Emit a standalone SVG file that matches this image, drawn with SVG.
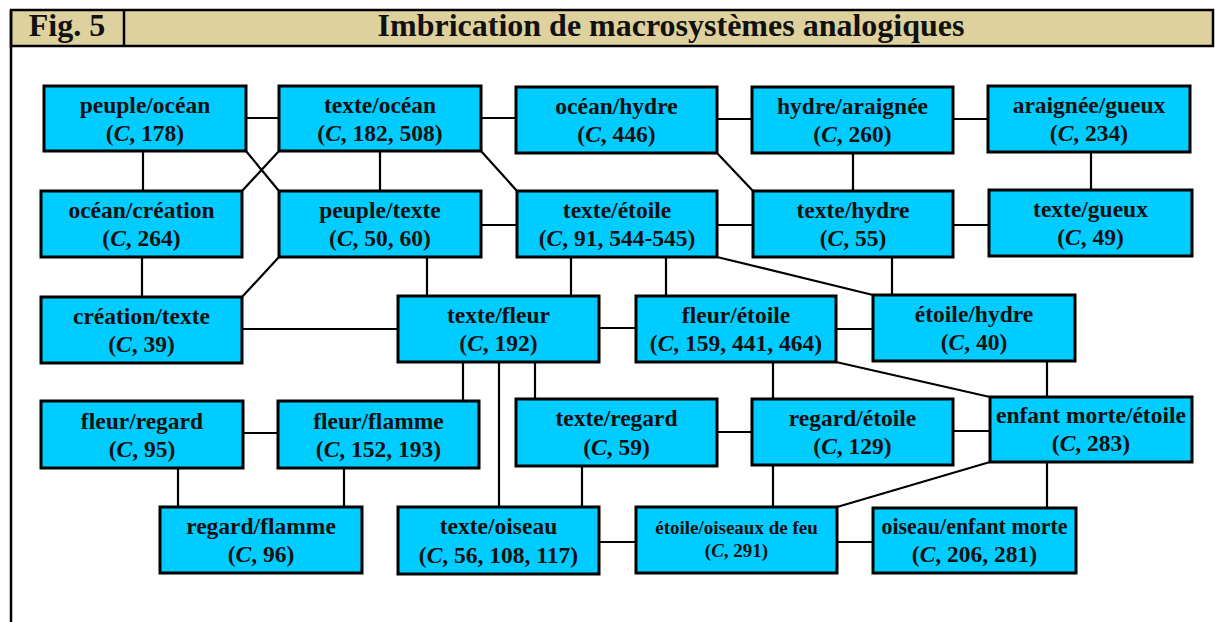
<svg xmlns="http://www.w3.org/2000/svg" width="1215" height="622" viewBox="0 0 1215 622">
  <style>
    .frame { fill: none; stroke: #000; stroke-width: 2.5; }
    .head { fill: #DED19D; stroke: #000; stroke-width: 2.5; }
    .htxt { font-family: "Liberation Serif", "DejaVu Serif", serif; font-weight: bold; font-size: 32px; fill: #111; text-anchor: middle; }
    .node rect { fill: #00CCFF; stroke: #000; stroke-width: 3; }
    .node text { font-family: "Liberation Serif", "DejaVu Serif", serif; font-weight: bold; font-size: 23.5px; fill: #111; text-anchor: middle; }
    .node text.sm { font-size: 19px; }
    .it { font-style: italic; }
    .links { fill: none; stroke: #000; stroke-width: 2.2; }
  </style>

  <!-- header band and left frame line -->
  <rect class="head" x="11" y="10" width="1202" height="36"/>
  <line class="frame" x1="124" y1="10" x2="124" y2="46"/>
  <line class="frame" x1="11" y1="10" x2="11" y2="622"/>
  <text class="htxt" x="67" y="36">Fig. 5</text>
  <text class="htxt" x="671" y="36">Imbrication de macrosystèmes analogiques</text>

  <!-- connectors -->
  <g id="connectors" class="links">
    <path d="M246 118 H279 M481 118 H516 M717 119 H752 M953 119 H988"/>
    <path d="M143 151 V191 M380 151 V191 M853 153 V191 M1091 152 V190"/>
    <path d="M246 151 L279 191 M279 151 L242 191 M481 151 L517 191 M717 153 L753 191"/>
    <path d="M481 225 H517 M717 225 H753 M953 225 H989"/>
    <path d="M142 257 V297 M279 257 L242 297 M242 329 H398"/>
    <path d="M427 257 V296 M571 257 V296 M666 257 V296 M717 257 L873 295 M892 257 V295"/>
    <path d="M599 328 H636 M836 329 H873 M836 362 L990 397 M1047 361 V397"/>
    <path d="M463 362 V401 M499 362 V507 M535 362 V399 M773 362 V399"/>
    <path d="M243 433 H278 M178 468 V507 M344 468 V507 M717 432 H752 M953 431 H990"/>
    <path d="M582 466 V507 M773 465 V507 M990 462 L837 507 M1047 462 V508"/>
    <path d="M599 542 H636 M837 542 H873"/>
  </g>

  <!-- row 1 -->
  <g id="peuple-ocean" class="node">
    <rect x="44" y="86" width="202" height="65"/>
    <text x="145" y="113">peuple/océan</text>
    <text x="145" y="141">(<tspan class="it">C</tspan>, 178)</text>
  </g>
  <g id="texte-ocean" class="node">
    <rect x="279" y="86" width="202" height="65"/>
    <text x="380" y="113">texte/océan</text>
    <text x="380" y="141">(<tspan class="it">C</tspan>, 182, 508)</text>
  </g>
  <g id="ocean-hydre" class="node">
    <rect x="516" y="87" width="201" height="66"/>
    <text x="616.5" y="114">océan/hydre</text>
    <text x="616.5" y="142">(<tspan class="it">C</tspan>, 446)</text>
  </g>
  <g id="hydre-araignee" class="node">
    <rect x="752" y="87" width="201" height="66"/>
    <text x="852.5" y="114">hydre/araignée</text>
    <text x="852.5" y="142">(<tspan class="it">C</tspan>, 260)</text>
  </g>
  <g id="araignee-gueux" class="node">
    <rect x="988" y="86" width="202" height="66"/>
    <text x="1089" y="113">araignée/gueux</text>
    <text x="1089" y="141">(<tspan class="it">C</tspan>, 234)</text>
  </g>

  <!-- row 2 -->
  <g id="ocean-creation" class="node">
    <rect x="41" y="191" width="201" height="66"/>
    <text x="141.5" y="218">océan/création</text>
    <text x="141.5" y="246">(<tspan class="it">C</tspan>, 264)</text>
  </g>
  <g id="peuple-texte" class="node">
    <rect x="279" y="191" width="202" height="66"/>
    <text x="380" y="218">peuple/texte</text>
    <text x="380" y="246">(<tspan class="it">C</tspan>, 50, 60)</text>
  </g>
  <g id="texte-etoile" class="node">
    <rect x="517" y="191" width="200" height="66"/>
    <text x="617" y="218">texte/étoile</text>
    <text x="617" y="246">(<tspan class="it">C</tspan>, 91, 544-545)</text>
  </g>
  <g id="texte-hydre" class="node">
    <rect x="753" y="191" width="200" height="66"/>
    <text x="853" y="218">texte/hydre</text>
    <text x="853" y="246">(<tspan class="it">C</tspan>, 55)</text>
  </g>
  <g id="texte-gueux" class="node">
    <rect x="989" y="190" width="203" height="66"/>
    <text x="1090.5" y="217">texte/gueux</text>
    <text x="1090.5" y="245">(<tspan class="it">C</tspan>, 49)</text>
  </g>

  <!-- row 3 -->
  <g id="creation-texte" class="node">
    <rect x="41" y="297" width="201" height="66"/>
    <text x="141.5" y="324">création/texte</text>
    <text x="141.5" y="352">(<tspan class="it">C</tspan>, 39)</text>
  </g>
  <g id="texte-fleur" class="node">
    <rect x="398" y="296" width="201" height="66"/>
    <text x="498.5" y="323">texte/fleur</text>
    <text x="498.5" y="351">(<tspan class="it">C</tspan>, 192)</text>
  </g>
  <g id="fleur-etoile" class="node">
    <rect x="636" y="296" width="200" height="66"/>
    <text x="736" y="323">fleur/étoile</text>
    <text x="736" y="351">(<tspan class="it">C</tspan>, 159, 441, 464)</text>
  </g>
  <g id="etoile-hydre" class="node">
    <rect x="873" y="295" width="202" height="66"/>
    <text x="974" y="322">étoile/hydre</text>
    <text x="974" y="350">(<tspan class="it">C</tspan>, 40)</text>
  </g>

  <!-- row 4 -->
  <g id="fleur-regard" class="node">
    <rect x="41" y="401" width="202" height="67"/>
    <text x="142" y="429">fleur/regard</text>
    <text x="142" y="457">(<tspan class="it">C</tspan>, 95)</text>
  </g>
  <g id="fleur-flamme" class="node">
    <rect x="278" y="401" width="201" height="67"/>
    <text x="378.5" y="429">fleur/flamme</text>
    <text x="378.5" y="457">(<tspan class="it">C</tspan>, 152, 193)</text>
  </g>
  <g id="texte-regard" class="node">
    <rect x="516" y="399" width="201" height="67"/>
    <text x="616.5" y="426">texte/regard</text>
    <text x="616.5" y="455">(<tspan class="it">C</tspan>, 59)</text>
  </g>
  <g id="regard-etoile" class="node">
    <rect x="752" y="399" width="201" height="66"/>
    <text x="852.5" y="426">regard/étoile</text>
    <text x="852.5" y="454">(<tspan class="it">C</tspan>, 129)</text>
  </g>
  <g id="enfant-morte-etoile" class="node">
    <rect x="990" y="397" width="202" height="65"/>
    <text x="1091" y="423">enfant morte/étoile</text>
    <text x="1091" y="451">(<tspan class="it">C</tspan>, 283)</text>
  </g>

  <!-- row 5 -->
  <g id="regard-flamme" class="node">
    <rect x="160" y="507" width="202" height="66"/>
    <text x="261" y="534">regard/flamme</text>
    <text x="261" y="562">(<tspan class="it">C</tspan>, 96)</text>
  </g>
  <g id="texte-oiseau" class="node">
    <rect x="398" y="507" width="201" height="67"/>
    <text x="498.5" y="534">texte/oiseau</text>
    <text x="498.5" y="563">(<tspan class="it">C</tspan>, 56, 108, 117)</text>
  </g>
  <g id="etoile-oiseaux-de-feu" class="node">
    <rect x="636" y="507" width="201" height="66"/>
    <text class="sm" x="736.5" y="534">étoile/oiseaux de feu</text>
    <text class="sm" x="736.5" y="557">(<tspan class="it">C</tspan>, 291)</text>
  </g>
  <g id="oiseau-enfant-morte" class="node">
    <rect x="873" y="508" width="203" height="65"/>
    <text x="974.5" y="534" textLength="186" lengthAdjust="spacingAndGlyphs">oiseau/enfant morte</text>
    <text x="974.5" y="562">(<tspan class="it">C</tspan>, 206, 281)</text>
  </g>
</svg>
